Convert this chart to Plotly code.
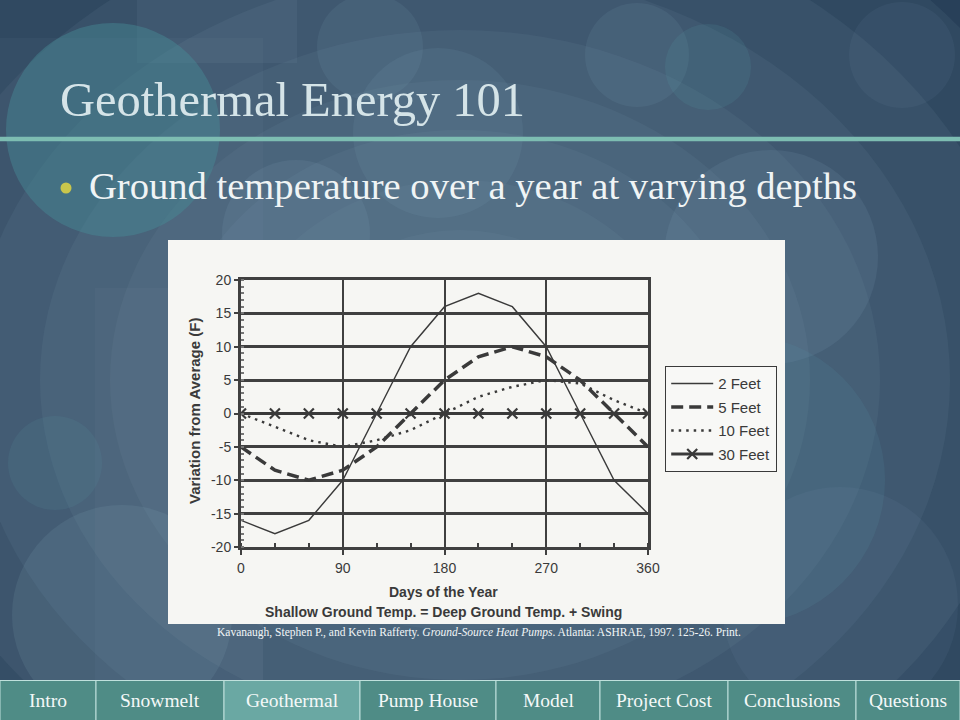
import plotly.graph_objects as go

days = [0, 30, 60, 90, 120, 150, 180, 210, 240, 270, 300, 330, 360]
feet2 = [-16, -18, -16, -10, 0, 10, 16, 18, 16, 10, 0, -10, -15]
feet5 = [-5, -8.5, -10, -8.5, -5, 0, 5, 8.5, 10, 8.5, 5, 0, -5]
feet10 = [0, -2, -4, -5, -4, -2.5, 0, 2.5, 4, 5, 4.5, 2, 0]
feet30 = [0, 0, 0, 0, 0, 0, 0, 0, 0, 0, 0, 0, 0]
xticks = [0, 90, 180, 270, 360]
yticks = [20, 15, 10, 5, 0, -5, -10, -15, -20]
ytick_text = ["20", "15", "10", "5", "0", "-5", "-10", "-15", "-20"]
nav_items = ["Intro", "Snowmelt", "Geothermal", "Pump House", "Model",
             "Project Cost", "Conclusions", "Questions"]
nav_edges = [0, 96, 224, 360, 496, 600, 728, 856, 960]

W, H = 960, 720
def px(x):
    return x / W
def py(y):
    return 1 - y / H

ink = "#3a3a3a"
grid = "#404040"
fig = go.Figure()
fig.add_trace(go.Scatter(x=days, y=feet2, name="2 Feet", mode="lines", legendgroup="a",
                         line=dict(color=ink, width=1.4)))
fig.add_trace(go.Scatter(x=days, y=feet5, name="5 Feet", mode="lines", legendgroup="b",
                         line=dict(color=ink, width=3.5, dash="12px,6px")))
fig.add_trace(go.Scatter(x=days, y=feet10, name="10 Feet", mode="lines", legendgroup="c",
                         line=dict(color=ink, width=2.4, dash="2.5px,5px")))
fig.add_trace(go.Scatter(x=days, y=feet30, name="30 Feet", mode="lines+markers",
                         legendgroup="d",
                         line=dict(color=ink, width=3),
                         marker=dict(symbol="x-thin", size=10,
                                     line=dict(color=ink, width=2.2))))

shapes = []
# vignette: concentric light ellipses over a dark base
vign = [(-300, -250, 1200, 1000), (-200, -170, 1110, 920), (-110, -100, 1030, 850),
        (-30, -30, 950, 790), (40, 30, 880, 730), (110, 80, 810, 680),
        (170, 130, 750, 630), (230, 180, 690, 580), (290, 230, 630, 530)]
for x0, y0, x1, y1 in vign:
    shapes.append(dict(type="circle", xref="paper", yref="paper",
                       x0=px(x0), x1=px(x1), y0=py(y1), y1=py(y0),
                       fillcolor="rgba(130,160,178,0.10)", line=dict(width=0),
                       layer="below"))
# decorative rectangles
rects = [(137, 0, 297, 63, "rgba(150,180,200,0.08)"),
         (0, 38, 263, 680, "rgba(150,180,200,0.05)"),
         (95, 288, 263, 680, "rgba(150,180,200,0.05)")]
for x0, y0, x1, y1, c in rects:
    shapes.append(dict(type="rect", xref="paper", yref="paper",
                       x0=px(x0), x1=px(x1), y0=py(y1), y1=py(y0),
                       fillcolor=c, line=dict(width=0), layer="below"))
# decorative circles (cx, cy, r, color)
circles = [
    (113, 130, 107, "rgba(70,140,150,0.45)"),
    (370, 47, 53, "rgba(140,175,195,0.10)"),
    (438, 133, 85, "rgba(140,175,195,0.10)"),
    (296, 234, 74, "rgba(140,175,195,0.12)"),
    (637, 55, 52, "rgba(140,180,195,0.10)"),
    (708, 67, 43, "rgba(90,160,170,0.15)"),
    (902, 55, 53, "rgba(140,175,195,0.07)"),
    (771, 257, 107, "rgba(140,175,195,0.12)"),
    (55, 463, 47, "rgba(90,150,160,0.15)"),
    (122, 615, 110, "rgba(140,175,195,0.13)"),
    (740, 480, 145, "rgba(90,150,165,0.15)"),
    (840, 605, 118, "rgba(140,175,195,0.07)"),
]
for cx, cy, r, c in circles:
    shapes.append(dict(type="circle", xref="paper", yref="paper",
                       x0=px(cx - r), x1=px(cx + r), y0=py(cy + r), y1=py(cy - r),
                       fillcolor=c, line=dict(width=0), layer="below"))
# title rule
shapes.append(dict(type="line", xref="paper", yref="paper", x0=0, x1=1,
                   y0=py(139), y1=py(139), line=dict(color="#7dbdb2", width=4.3)))
# chart image box
shapes.append(dict(type="rect", xref="paper", yref="paper", x0=px(168), x1=px(785),
                   y0=py(624), y1=py(240), fillcolor="#f6f6f3",
                   line=dict(width=0), layer="below"))
# bullet
shapes.append(dict(type="circle", xref="paper", yref="paper", x0=px(60.5), x1=px(71.5),
                   y0=py(193.5), y1=py(182.5), fillcolor="#c9c64c", line=dict(width=0)))
# nav bar
for i, name in enumerate(nav_items):
    col = "#6aa8a3" if name == "Geothermal" else "#4f8c86"
    shapes.append(dict(type="rect", xref="paper", yref="paper",
                       x0=px(nav_edges[i]), x1=px(nav_edges[i + 1]),
                       y0=py(722), y1=py(680.5), fillcolor=col,
                       line=dict(color="#bfe0dc", width=1)))

annotations = [
    dict(text="Geothermal Energy 101", x=px(58), y=py(100), xref="paper", yref="paper",
         xanchor="left", yanchor="middle", showarrow=False,
         font=dict(family="Liberation Serif", size=48.5, color="#d5e4e8")),
    dict(text="Ground temperature over a year at varying depths", x=px(87), y=py(186),
         xref="paper", yref="paper", xanchor="left", yanchor="middle", showarrow=False,
         font=dict(family="Liberation Serif", size=38.6, color="#f0f4f5")),
    dict(text="Kavanaugh, Stephen P., and Kevin Rafferty. <i>Ground-Source Heat Pumps</i>. "
              "Atlanta: ASHRAE, 1997. 125-26. Print.",
         x=px(215), y=py(632), xref="paper", yref="paper", xanchor="left",
         yanchor="middle", showarrow=False,
         font=dict(family="Liberation Serif", size=11.5, color="#f2f6f7")),
    dict(text="<b>Days of the Year</b>", x=px(443), y=py(592), xref="paper",
         yref="paper", xanchor="center", yanchor="middle", showarrow=False,
         font=dict(family="Liberation Sans", size=14, color=ink)),
    dict(text="<b>Shallow Ground Temp. = Deep Ground Temp. + Swing</b>", x=px(443),
         y=py(612), xref="paper", yref="paper", xanchor="center", yanchor="middle",
         showarrow=False, font=dict(family="Liberation Sans", size=14, color=ink)),
    dict(text="<b>Variation from Average (F)</b>", x=px(194), y=py(411), xref="paper",
         yref="paper", xanchor="center", yanchor="middle", showarrow=False,
         textangle=-90, font=dict(family="Liberation Sans", size=15, color=ink)),
]
for i, name in enumerate(nav_items):
    annotations.append(dict(text=name, x=px((nav_edges[i] + nav_edges[i + 1]) / 2),
                            y=py(700), xref="paper", yref="paper", xanchor="center",
                            yanchor="middle", showarrow=False,
                            font=dict(family="Liberation Serif", size=19.5,
                                      color="#f4f8f8")))

fig.update_layout(
    width=W, height=H, margin=dict(l=0, r=0, t=0, b=0, pad=0, autoexpand=False),
    paper_bgcolor="#1f3650", plot_bgcolor="#f6f6f3",
    shapes=shapes, annotations=annotations,
    showlegend=True,
    legend=dict(x=px(665), y=py(366), xanchor="left", yanchor="top",
                bgcolor="#f8f8f6", bordercolor=ink, borderwidth=1.2,
                font=dict(family="Liberation Sans", size=15, color=ink),
                tracegroupgap=1, itemwidth=42),
    xaxis=dict(domain=[px(241), px(648)], range=[0, 360], tickvals=xticks,
               showgrid=True, gridcolor=grid, gridwidth=2,
               showline=True, linecolor=grid, linewidth=3, mirror=True,
               zeroline=False, ticks="outside", ticklen=5, tickcolor=grid,
               tickwidth=2, ticklabelstandoff=1, automargin=False,
               tickfont=dict(family="Liberation Sans", size=14, color=ink),
               minor=dict(dtick=30, ticks="inside", ticklen=4, tickcolor=grid,
                          showgrid=False)),
    yaxis=dict(domain=[py(547), py(280)], range=[-20, 20], tickvals=yticks,
               ticktext=ytick_text, automargin=False,
               showgrid=True, gridcolor=grid, gridwidth=3,
               showline=True, linecolor=grid, linewidth=3, mirror=True,
               zeroline=False, ticks="outside", ticklen=4, tickcolor=grid,
               tickwidth=2,
               tickfont=dict(family="Liberation Sans", size=14, color=ink),
               minor=dict(dtick=1, ticks="inside", ticklen=3, tickcolor="#777777",
                          showgrid=False)),
)

css = ("html,body{margin:0;padding:0;overflow:hidden;width:960px;height:720px;"
       "background:#1f3650;}"
       ".plotly-graph-div{position:absolute;left:0;top:0;}")
fig.write_html("out.html",
               config={"displayModeBar": False},
               post_script="var s=document.createElement('style');"
                           "s.innerHTML='" + css + "';"
                           "document.head.appendChild(s);")
